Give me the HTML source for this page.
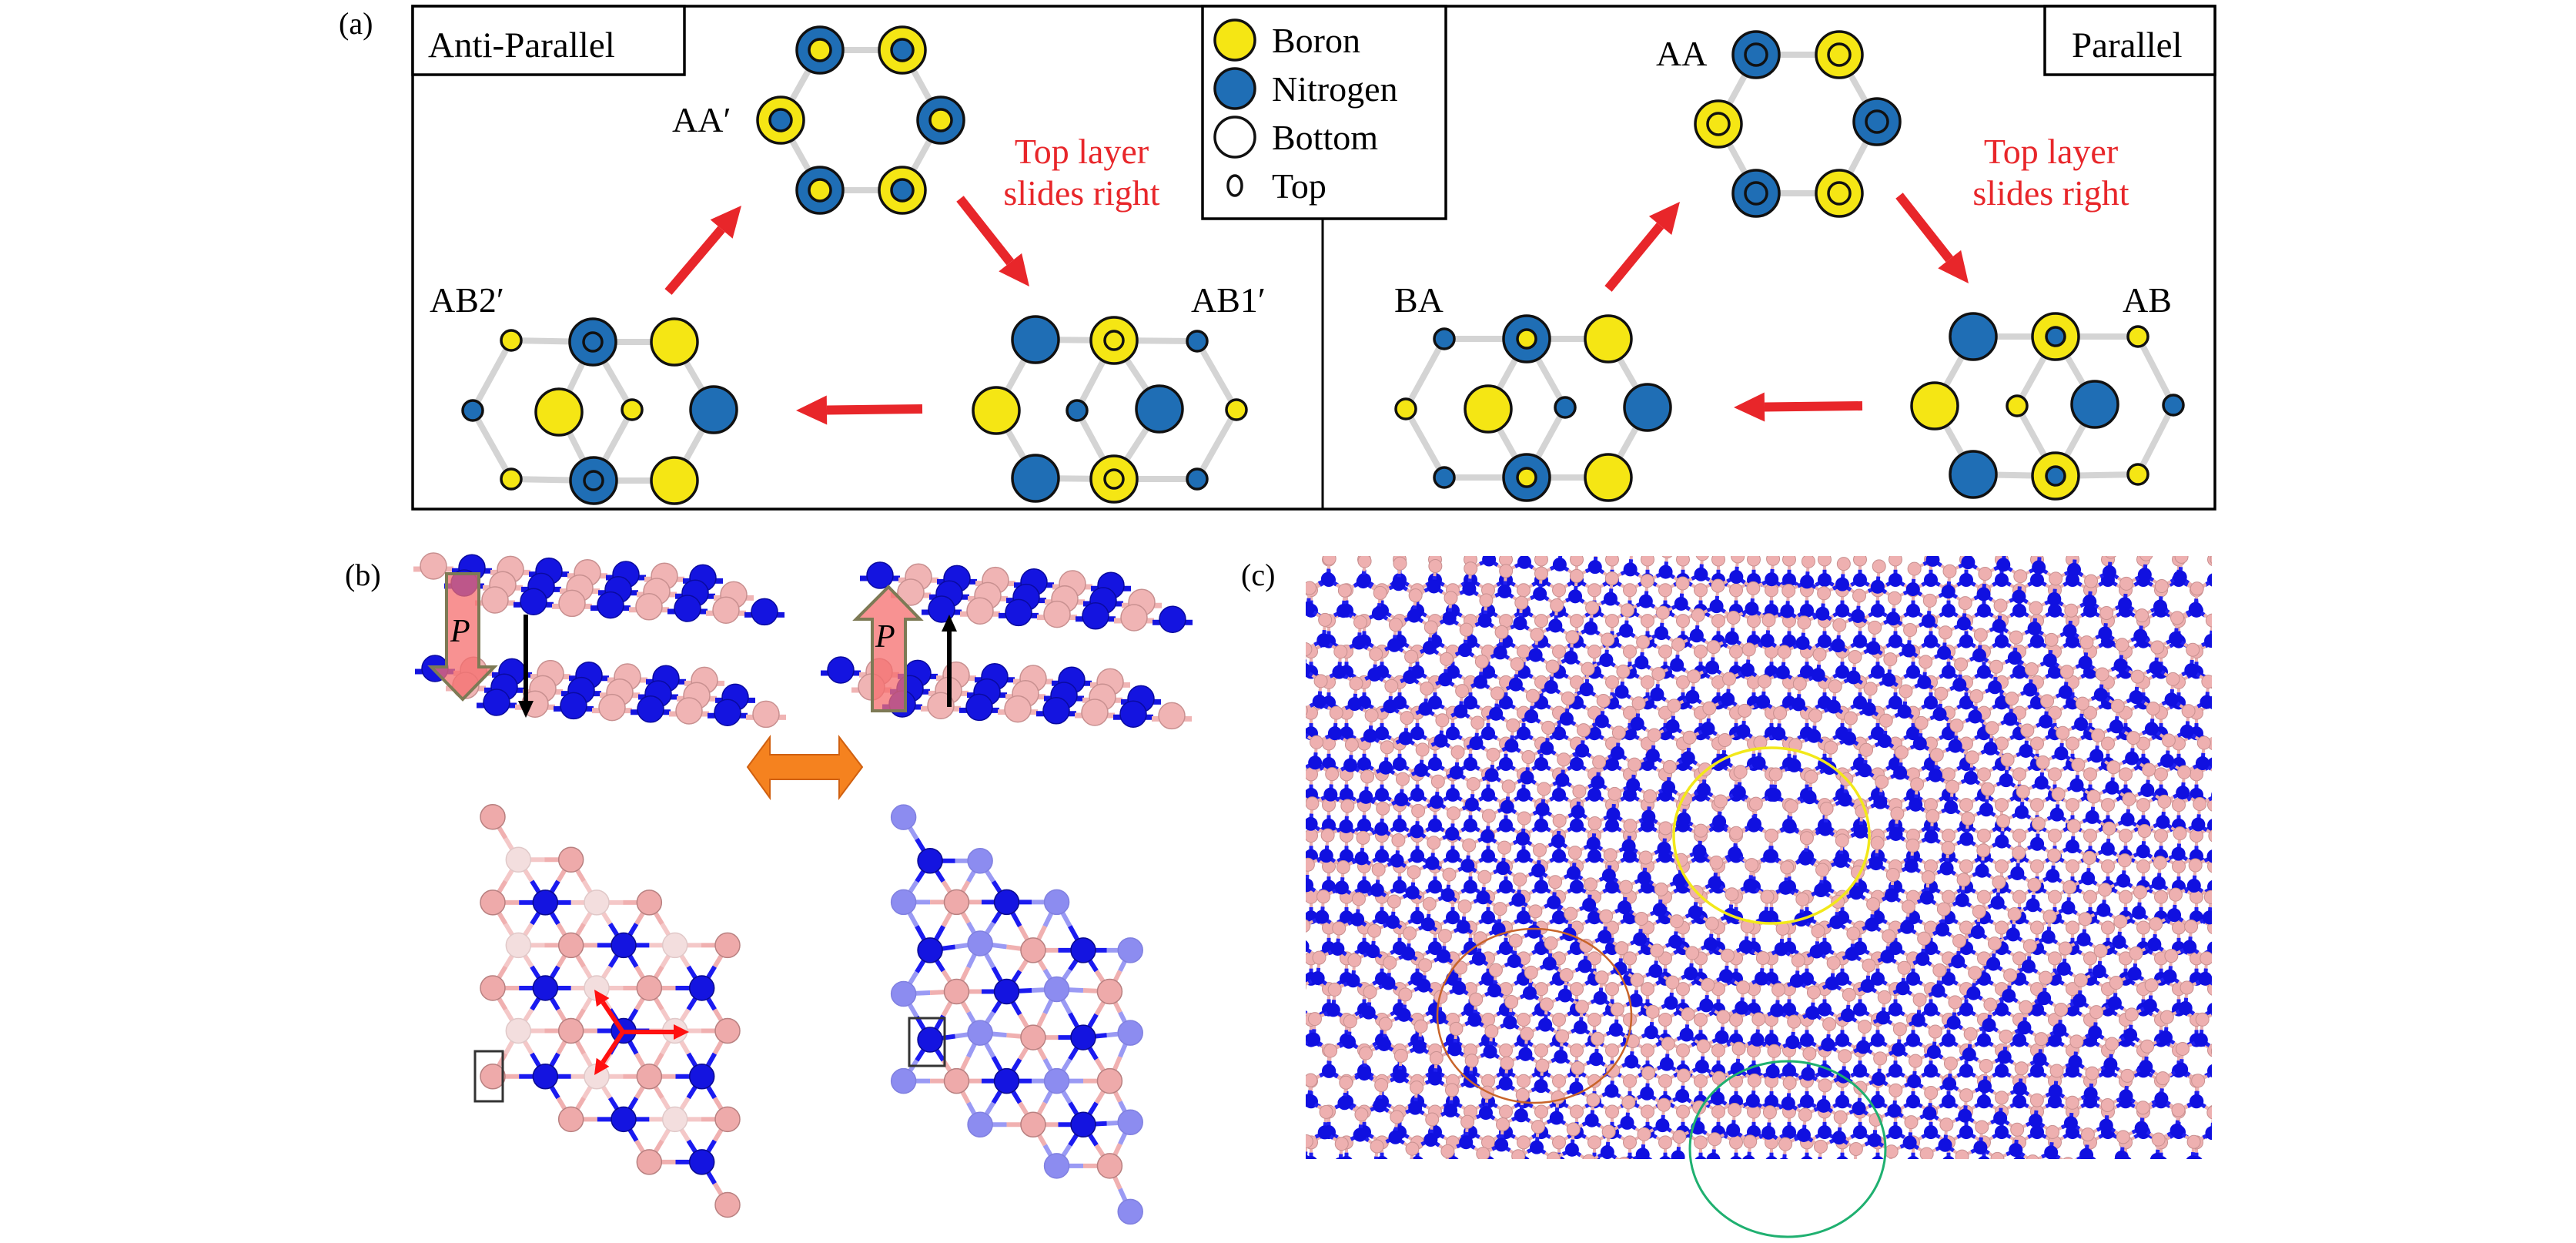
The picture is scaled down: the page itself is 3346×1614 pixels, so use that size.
<!DOCTYPE html>
<html><head><meta charset="utf-8">
<style>
html,body{margin:0;padding:0;background:#fff;}
svg{display:block;}
</style></head>
<body>
<svg id="s" xmlns="http://www.w3.org/2000/svg" width="3346" height="1614" viewBox="0 0 3346 1614" font-family="'Liberation Serif', 'DejaVu Serif', serif">
<defs>
<clipPath id="cc"><rect x="1696" y="722" width="1177" height="783"/></clipPath>
</defs>
<rect width="3346" height="1614" fill="#fff"/>
<g id="ga"></g>
<rect x="536" y="8" width="2341" height="653" fill="none" stroke="#000" stroke-width="3.5"/>
<line x1="1718" y1="284" x2="1718" y2="661" stroke="#000" stroke-width="3"/>
<rect x="536" y="8" width="353" height="89" fill="#fff" stroke="#000" stroke-width="3.5"/>
<rect x="2656" y="8" width="221" height="89" fill="#fff" stroke="#000" stroke-width="3.5"/>
<rect x="1562" y="8" width="316" height="276" fill="#fff" stroke="#000" stroke-width="3.5"/>
<text x="556" y="74" font-size="47" font-family="'Liberation Serif', serif">Anti-Parallel</text>
<text x="2691" y="74" font-size="47" font-family="'Liberation Serif', serif">Parallel</text>
<text x="440" y="44" font-size="40" font-family="'Liberation Serif', serif">(a)</text>
<circle cx="1604" cy="52" r="26" fill="#f5e614" stroke="#111" stroke-width="3.5"/>
<circle cx="1604" cy="115" r="26" fill="#1f6eb5" stroke="#111" stroke-width="3.5"/>
<circle cx="1604" cy="178" r="26" fill="#fff" stroke="#111" stroke-width="3.5"/>
<ellipse cx="1604" cy="241" rx="9" ry="13" fill="#fff" stroke="#111" stroke-width="3.5"/>
<g font-family="'Liberation Serif', serif" font-size="46">
<text x="1652" y="68">Boron</text>
<text x="1652" y="131">Nitrogen</text>
<text x="1652" y="194">Bottom</text>
<text x="1652" y="257">Top</text>
<text x="873" y="171">AA′</text>
<text x="558" y="405">AB2′</text>
<text x="1547" y="405">AB1′</text>
<text x="2151" y="85">AA</text>
<text x="1811" y="405">BA</text>
<text x="2757" y="405">AB</text>
<text x="1405" y="212" fill="#e8262a" text-anchor="middle">Top layer</text>
<text x="1405" y="266" fill="#e8262a" text-anchor="middle">slides right</text>
<text x="2664" y="212" fill="#e8262a" text-anchor="middle">Top layer</text>
<text x="2664" y="266" fill="#e8262a" text-anchor="middle">slides right</text>
</g>
<text x="448" y="760" font-size="40" font-family="'Liberation Serif', serif">(b)</text>
<text x="1612" y="760" font-size="40" font-family="'Liberation Serif', serif">(c)</text>
<g id="gb"></g>
<g id="gc" clip-path="url(#cc)"></g>
<g id="gover">
<ellipse cx="2301" cy="1085" rx="127" ry="114" fill="none" stroke="#f2e81a" stroke-width="3.5"/>
<ellipse cx="1993" cy="1319" rx="126" ry="113" fill="none" stroke="#c8642a" stroke-width="2.5"/>
<ellipse cx="2322" cy="1492" rx="127" ry="114" fill="none" stroke="#1fb070" stroke-width="3"/>
</g>
</svg>
<script>
const NS='http://www.w3.org/2000/svg';
function el(t,a,p){const e=document.createElementNS(NS,t);for(const k in a)e.setAttribute(k,a[k]);p.appendChild(e);return e;}
const ga=document.getElementById('ga'),gb=document.getElementById('gb'),gc=document.getElementById('gc');
const Y='#f5e614',B='#1f6eb5',K='#111';
function hex(p){el('polygon',{points:p.map(q=>q.join(',')).join(' '),fill:'none',stroke:'#d4d4d4','stroke-width':8},ga);}
function at(x,y,c,r,inner){el('circle',{cx:x,cy:y,r:r,fill:c,stroke:K,'stroke-width':3.5},ga);if(inner)el('circle',{cx:x,cy:y,r:inner[1],fill:inner[0],stroke:K,'stroke-width':3.5},ga);}
function arrow(x1,y1,x2,y2){const dx=x2-x1,dy=y2-y1,L=Math.hypot(dx,dy),ux=dx/L,uy=dy/L,hl=40,hw=19;
 const bx=x2-ux*hl,by=y2-uy*hl;
 el('line',{x1:x1,y1:y1,x2:bx,y2:by,stroke:'#e8262a','stroke-width':12},ga);
 el('polygon',{points:`${x2},${y2} ${bx-uy*hw},${by+ux*hw} ${bx+uy*hw},${by-ux*hw}`,fill:'#e8262a'},ga);}
let p=[[1065,65],[1172,65],[1222,156],[1172,247],[1065,247],[1014,156]];hex(p);
[[B,Y],[Y,B],[B,Y],[Y,B],[B,Y],[Y,B]].forEach((c,i)=>at(p[i][0],p[i][1],c[0],30,[c[1],14]));
p=[[2281,71],[2389,71],[2438,158],[2389,251],[2281,251],[2232,161]];hex(p);
[[B,B],[Y,Y],[B,B],[Y,Y],[B,B],[Y,Y]].forEach((c,i)=>at(p[i][0],p[i][1],c[0],30,[c[1],14]));
hex([[770,444],[876,444],[927,532],[876,624],[771,624],[726,535]]);
hex([[664,442],[770,444],[821,532],[771,624],[664,622],[614,533]]);
at(664,442,Y,13);at(876,444,Y,30);at(614,533,B,13);at(726,535,Y,30);at(821,532,Y,13);at(927,532,B,30);at(664,622,Y,13);at(876,624,Y,30);
at(770,444,B,30,[B,12]);at(771,624,B,30,[B,12]);
hex([[1345,441],[1447,442],[1506,531],[1447,622],[1345,621],[1294,533]]);
hex([[1447,442],[1555,443],[1606,532],[1555,622],[1447,622],[1399,533]]);
at(1345,441,B,30);at(1555,443,B,13);at(1294,533,Y,30);at(1399,533,B,13);at(1506,531,B,30);at(1606,532,Y,13);at(1345,621,B,30);at(1555,622,B,13);
at(1447,442,Y,30,[Y,12]);at(1447,622,Y,30,[Y,12]);
hex([[1983,440],[2089,440],[2140,529],[2089,620],[1983,620],[1933,531]]);
hex([[1876,440],[1983,440],[2033,529],[1983,620],[1876,620],[1826,531]]);
at(1876,440,B,13);at(2089,440,Y,30);at(1826,531,Y,13);at(1933,531,Y,30);at(2033,529,B,13);at(2140,529,B,30);at(1876,620,B,13);at(2089,620,Y,30);
at(1983,440,B,30,[Y,12]);at(1983,620,B,30,[Y,12]);
hex([[2563,437],[2670,437],[2721,525],[2670,618],[2563,616],[2513,527]]);
hex([[2670,437],[2777,437],[2823,526],[2777,616],[2670,618],[2620,527]]);
at(2563,437,B,30);at(2777,437,Y,13);at(2513,527,Y,30);at(2620,527,Y,13);at(2721,525,B,30);at(2823,526,B,13);at(2563,616,B,30);at(2777,616,Y,13);
at(2670,437,Y,30,[B,12]);at(2670,618,Y,30,[B,12]);
arrow(868,379,963,267);arrow(1247,258,1337,372);arrow(1198,531,1034,533);
arrow(2089,375,2182,262);arrow(2467,254,2557,368);arrow(2419,527,2252,529);

const PK='#f0b4b4',PKs='#c89090',BL='#1414e0';
function sideLayer(x0,y0,nrows,n,start){
 for(let r=0;r<nrows;r++){for(let i=0;i<n;i++){
  const x=x0+r*40+i*50,y=y0+r*22+i*2.2;const isB=((i+r+start)%2==0);
  el('line',{x1:x-26,y1:y+4,x2:x+26,y2:y+4,stroke:isB?PK:BL,'stroke-width':7},gb);
  el('circle',{cx:x,cy:y,r:17,fill:isB?PK:BL,stroke:isB?PKs:'#0a0aa0','stroke-width':1.5},gb);
 }}
}
sideLayer(563,735,3,8,0);
sideLayer(565,868,3,8,1);
sideLayer(1143,747,3,7,1);
sideLayer(1092,870,3,8,1);
el('polygon',{points:'580,745 622,745 622,866 642,866 601,908 560,866 580,866',fill:'rgba(245,110,110,0.75)',stroke:'#7d7a55','stroke-width':4},gb);
el('text',{x:585,y:833,'font-size':42,'font-style':'italic','font-family':"'Liberation Serif', serif"},gb).textContent='P';
el('line',{x1:683,y1:798,x2:683,y2:912,stroke:'#000','stroke-width':6},gb);
el('polygon',{points:'673,910 693,910 683,932',fill:'#000'},gb);
el('polygon',{points:'1133,923 1176,923 1176,804 1195,804 1154,762 1112,804 1133,804',fill:'rgba(245,110,110,0.75)',stroke:'#7d7a55','stroke-width':4},gb);
el('text',{x:1137,y:840,'font-size':42,'font-style':'italic','font-family':"'Liberation Serif', serif"},gb).textContent='P';
el('line',{x1:1233,y1:918,x2:1233,y2:818,stroke:'#000','stroke-width':6},gb);
el('polygon',{points:'1223,820 1243,820 1233,798',fill:'#000'},gb);
el('polygon',{points:'971,996 1000,957 1000,980 1090,980 1090,957 1120,996 1090,1036 1090,1012 1000,1012 1000,1036',fill:'#f5821f',stroke:'#d06010','stroke-width':2},gb);
function topView(list){
 const all=[];list.forEach(g=>g.pts.forEach(q=>all.push({x:q[0],y:q[1],c:g.c,s:g.s,l:g.l})));
 for(let i=0;i<all.length;i++)for(let j=i+1;j<all.length;j++){const a=all[i],b=all[j];const d=Math.hypot(a.x-b.x,a.y-b.y);
  if(d<80){const mx=(a.x+b.x)/2,my=(a.y+b.y)/2;
   el('line',{x1:a.x,y1:a.y,x2:mx,y2:my,stroke:a.l,'stroke-width':6},gb);
   el('line',{x1:mx,y1:my,x2:b.x,y2:b.y,stroke:b.l,'stroke-width':6},gb);}}
 list.forEach(g=>g.pts.forEach(q=>el('circle',{cx:q[0],cy:q[1],r:16,fill:g.c,stroke:g.s,'stroke-width':1.5},gb)));
}
const T1=q=>[560+q[0]/3,1020+q[1]/2.7];
topView([
 {c:'#f3dede',s:'#e0c8c8',l:'#f4c8c8',pts:[[340,260],[645,410],[340,560],[950,560],[645,710],[340,860],[950,860],[645,1020],[950,1170]].map(T1)},
 {c:'#eeaaaa',s:'#b88080',l:'#f0b0b0',pts:[[240,110],[545,260],[240,410],[850,410],[545,560],[1155,560],[240,710],[850,710],[545,860],[1155,860],[240,1020],[850,1020],[545,1170],[1155,1170],[850,1320],[1155,1470]].map(T1)},
 {c:'#1414e0',s:'#0a0a90',l:'#1a1af0',pts:[[445,410],[750,560],[445,710],[1055,710],[750,860],[445,1020],[1055,1020],[750,1170],[1055,1320]].map(T1)}
]);
const T2=q=>[420+q[0]/1.307,680+q[1]/1.679];
topView([
 {c:'#8c8cf0',s:'#8080e0',l:'#9a9af4',pts:[[985,640],[1115,735],[985,825],[1245,825],[1115,915],[1245,1015],[1115,1110],[1370,930],[1370,1110],[985,1215],[1245,1215],[1115,1310],[1370,1305],[1245,1400],[1370,1500],[985,1025]].map(T2)},
 {c:'#1414e0',s:'#0a0a90',l:'#1a1af0',pts:[[1030,735],[1160,825],[1030,930],[1290,930],[1160,1020],[1290,1120],[1160,1215],[1290,1310],[1030,1125]].map(T2)},
 {c:'#eeaaaa',s:'#b88080',l:'#f0b0b0',pts:[[1075,825],[1075,1020],[1205,930],[1205,1120],[1335,1020],[1075,1215],[1335,1215],[1205,1310],[1335,1400]].map(T2)}
]);
function rarrow(x1,y1,x2,y2){const dx=x2-x1,dy=y2-y1,L=Math.hypot(dx,dy),ux=dx/L,uy=dy/L,hl=20,hw=10;const bx=x2-ux*hl,by=y2-uy*hl;
 el('line',{x1:x1,y1:y1,x2:bx,y2:by,stroke:'#ff1010','stroke-width':6},gb);
 el('polygon',{points:`${x2},${y2} ${bx-uy*hw},${by+ux*hw} ${bx+uy*hw},${by-ux*hw}`,fill:'#ff1010'},gb);}
rarrow(809,1340,772,1285);rarrow(809,1340,895,1340);rarrow(809,1340,772,1396);
el('rect',{x:617,y:1365,width:36,height:65,fill:'none',stroke:'#333','stroke-width':3},gb);
el('rect',{x:1181,y:1322,width:46,height:62,fill:'none',stroke:'#333','stroke-width':3},gb);

function layer(theta,cx,cy,a,off){
 const c=Math.cos(theta),s=Math.sin(theta);
 const rot=(x,y)=>[cx+x*c-y*s,cy+x*s+y*c];
 const h=a/Math.sqrt(3);
 const bonds=[],Ns=[],Bs=[];
 for(let i=-45;i<=45;i++)for(let j=-40;j<=40;j++){
  const x=i*a+j*a/2+off[0],y=j*a*Math.sqrt(3)/2+off[1];
  const b=rot(x,y),n=rot(x,y+h);
  if(b[0]<1670||b[0]>2900||b[1]<700||b[1]>1530)continue;
  Bs.push(b);Ns.push(n);
  [[x,y],[x+a/2,y+a*Math.sqrt(3)/2],[x-a/2,y+a*Math.sqrt(3)/2]].forEach(q=>{const r=rot(q[0],q[1]);bonds.push([n,r]);});
 }
 bonds.forEach(([n,r])=>{const mx=(n[0]+r[0])/2,my=(n[1]+r[1])/2;
  el('line',{x1:mx,y1:my,x2:r[0],y2:r[1],stroke:'#eab0b0','stroke-width':4},gc);
  el('line',{x1:n[0],y1:n[1],x2:mx,y2:my,stroke:'#2020ee','stroke-width':5},gc);});
 Bs.forEach(b=>el('circle',{cx:b[0],cy:b[1],r:8.5,fill:'#eeb0b0',stroke:'#c89090','stroke-width':1},gc));
 Ns.forEach(n=>el('circle',{cx:n[0],cy:n[1],r:9,fill:'#1010e0'},gc));
}
layer(0,2301,1085,46,[0,0]);
layer(4.0*Math.PI/180,2301,1085,46,[0,0]);
</script>
</body></html>
